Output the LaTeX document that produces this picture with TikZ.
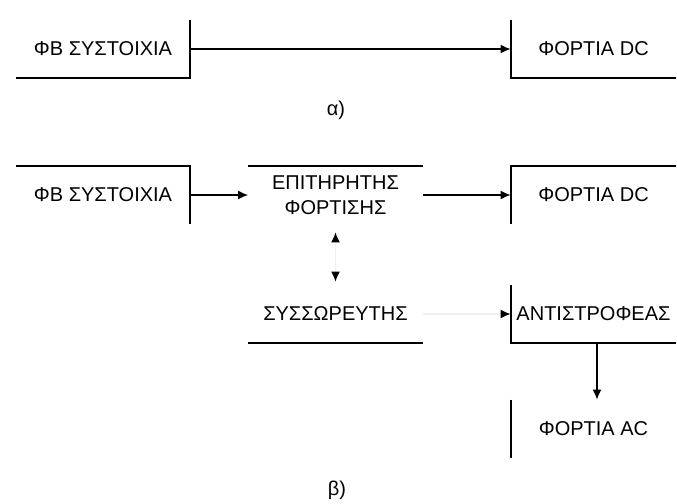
\documentclass[tikz,border=0pt]{standalone}
\usepackage{fontspec}
\setmainfont{Liberation Sans}
\usetikzlibrary{arrows.meta}
\tikzset{flow/.style={-{Latex[length=5pt,width=4.5pt]}, line width=0.75pt},
  faint/.style={draw=black!6, line width=0.7pt},
  blk/.style={inner sep=0pt, minimum width=87pt, minimum height=29pt, align=center},
  wblk/.style={blk, minimum width=82.5pt},
  edge/.style={line width=1pt}}

\begin{document}
\begin{tikzpicture}[x=0.5pt, y=-0.5pt, font=\fontsize{10}{12.5}\selectfont]
  \useasboundingbox (0,0) rectangle (677,504);
  % a)
  \node[blk] (pva) at (103,49) {ΦΒ ΣΥΣΤΟΙΧΙΑ};
  \node[wblk] (dca) at (593.5,49) {ΦΟΡΤΙΑ DC};
  \draw[edge] (pva.north east) -- (pva.south east) -- (pva.south west);
  \draw[edge] (dca.north west) -- (dca.south west) -- (dca.south east);
  \draw[flow] (pva) -- (dca);
  \node (lbla) at (336,110) {α)};
  % b)
  \node[blk] (pvb) at (103,195) {ΦΒ ΣΥΣΤΟΙΧΙΑ};
  \node[blk] (ctl) at (335.5,195) {ΕΠΙΤΗΡΗΤΗΣ\\ΦΟΡΤΙΣΗΣ};
  \node[wblk] (dcb) at (593.5,195) {ΦΟΡΤΙΑ DC};
  \node[blk] (bat) at (335.5,314) {ΣΥΣΣΩΡΕΥΤΗΣ};
  \node[wblk] (inv) at (593.5,314) {ΑΝΤΙΣΤΡΟΦΕΑΣ};
  \node[wblk] (acb) at (593.5,429) {ΦΟΡΤΙΑ AC};
  \draw[edge] (pvb.north west) -- (pvb.north east) -- (pvb.south east);
  \draw[edge] (ctl.north west) -- (ctl.north east);
  \draw[edge] (dcb.south west) -- (dcb.north west) -- (dcb.north east);
  \draw[edge] (bat.south west) -- (bat.south east);
  \draw[edge] (inv.north west) -- (inv.south west) -- (inv.south east);
  \draw[edge] (acb.north west) -- (acb.south west);
  \draw[flow] (pvb) -- (ctl);
  \draw[flow] (ctl) -- (dcb);
  \draw[faint, {Latex[length=5pt,width=4.5pt,color=black]}-{Latex[length=5pt,width=4.5pt,color=black]},
    shorten <=4pt, shorten >=1.5pt] (ctl.south) -- (bat.north);
  \draw[faint, -{Latex[length=5pt,width=4.5pt,color=black]}] (bat) -- (inv);
  \draw[flow] (inv.south) ++(3.5,0) coordinate (invs) -- (invs |- acb.north);
  \node (lblb) at (337,490) {β)};
\end{tikzpicture}
\end{document}
